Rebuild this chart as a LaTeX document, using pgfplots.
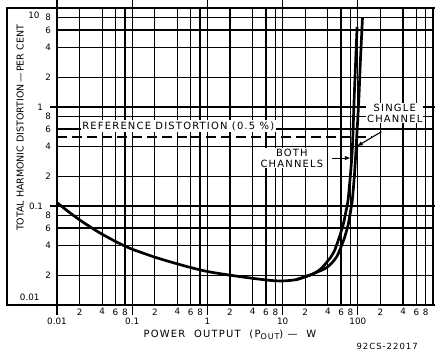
\documentclass[border=0pt]{standalone}
\usepackage{fontspec}
\setmainfont{DejaVu Sans}
\newfontfamily\spaced[LetterSpace=12]{DejaVu Sans}
\usepackage{pgfplots}
\pgfplotsset{compat=1.18}
\usetikzlibrary{arrows.meta}

\begin{document}
\begin{tikzpicture}
\begin{axis}[
  scale only axis, width=376bp, height=297bp,
  xmode=log, ymode=log,
  xmin=0.01, xmax=1000, ymin=0.01, ymax=10,
  axis line style={line width=1.3pt},
  grid=major,
  major grid style={line width=1.25pt, black},
  every tick/.style={black, line width=1.25pt},
  xtick={0.02,0.04,0.06,0.08,0.2,0.4,0.6,0.8,2,4,6,8,20,40,60,80,200,400,600,800},
  xticklabels={2,4,6,8,2,4,6,8,2,4,6,8,2,4,6,8,2,4,6,8},
  ytick={0.02,0.04,0.06,0.08,0.2,0.4,0.6,0.8,2,4,6,8},
  yticklabels={2,4,6,8,2,4,6,8,2,4,6,8},
  major tick length=0pt,
  tick label style={font=\fontsize{8.8}{10}\selectfont},
  yticklabel style={xshift=-2.5pt},
  extra x ticks={0.01,0.1,1,10,100},
  extra x tick labels={0.01,0.1,1,10,100},
  extra x tick style={grid=major, major tick length=10pt, tick align=outside},
  extra y ticks={0.01,0.1,1,10},
  extra y tick labels={,0.1,1,},
  extra y tick style={grid=major, major tick length=7pt, tick align=outside, yticklabel style={xshift=-1pt}},
  clip=false,
]
% common part, continuing as "both channels"
\addplot[line width=2.7pt, smooth, tension=0.45] coordinates {
(0.01,0.108) (0.015,0.0849) (0.02,0.0724) (0.03,0.0591) (0.04,0.0518) (0.06,0.0438)
(0.08,0.0394) (0.1,0.0366) (0.15,0.0328) (0.2,0.0304) (0.3,0.0277) (0.4,0.026)
(0.6,0.0239) (1,0.0218) (2,0.0200) (4,0.0186) (7,0.0177) (10,0.0175) (15,0.0180)
(20,0.0193) (25,0.0205) (30,0.0222) (34.3,0.0243) (43.8,0.0305) (49.5,0.036)
(56,0.047) (63.8,0.0643) (70,0.09) (74.3,0.115) (79,0.19) (84.5,0.368)
(89.3,1.177) (93.5,2.8) (97.9,6.43)
};
% single channel
\addplot[line width=2.7pt, smooth, tension=0.45] coordinates {
(15,0.018) (20,0.0193) (25,0.0205) (30,0.0218) (35,0.0229) (40.3,0.0245) (46,0.027) (52.1,0.0305)
(57.7,0.036) (66,0.047) (74.3,0.0643) (80,0.088) (84.5,0.115) (90,0.2)
(94.6,0.368) (103.1,1.177) (108,2.8) (115.4,7.93)
};
% reference distortion
\addplot[line width=1.7pt, dash pattern=on 10pt off 5pt] coordinates {(0.01,0.5) (150,0.5)};

\node[fill=white, inner sep=1.5pt, font=\spaced\fontsize{10}{12}\selectfont] at (axis cs:0.41,0.64) {REFERENCE DISTORTION (0.5 \%)};
\node[fill=white, align=center, inner sep=1pt, font=\spaced\fontsize{10}{11}\selectfont] at (axis cs:310,0.87) {SINGLE\\CHANNEL};
\node[fill=white, align=center, inner sep=1pt, font=\spaced\fontsize{10}{11}\selectfont] at (axis cs:13.3,0.305) {BOTH\\CHANNELS};
\draw[line width=1.1pt, -{Latex[length=6pt,width=4.5pt]}] (axis cs:206,0.563) -- (axis cs:97,0.40);
\draw[line width=1.1pt, -{Latex[length=6pt,width=4.5pt]}] (axis cs:44.7,0.305) -- (axis cs:81,0.305);

\draw[line width=1.3pt] (rel axis cs:0,1) -- (rel axis cs:-0.133,1) -- (rel axis cs:-0.133,0) -- (rel axis cs:0,0);

\node[anchor=east, font=\fontsize{8.8}{10}\selectfont, xshift=-14bp, yshift=8bp] at (rel axis cs:0,0) {0.01};
\node[anchor=east, font=\fontsize{8.8}{10}\selectfont, xshift=-14bp, yshift=-7bp] at (rel axis cs:0,1) {10};

\node[rotate=90, font=\fontsize{9.5}{12}\selectfont] at (rel axis cs:-0.098,0.596) {TOTAL HARMONIC DISTORTION\,—\,PER CENT};
\node[font=\spaced\fontsize{10}{12}\selectfont] at (rel axis cs:0.46,-0.10) {POWER\ \ OUTPUT\ \ (P\raisebox{-0.35ex}{\fontsize{8}{9}\selectfont OUT})\ —\ \ W};
\node[font=\spaced\fontsize{8.5}{9}\selectfont] at (rel axis cs:0.878,-0.141) {92CS-22017};

\coordinate (ll) at (rel axis cs:0,0);
\coordinate (ur) at (rel axis cs:1,1);
\end{axis}
\pgfresetboundingbox
\useasboundingbox ([shift={(-57bp,-47bp)}]ll) rectangle ([shift={(2bp,8bp)}]ur);
\end{tikzpicture}
\end{document}
